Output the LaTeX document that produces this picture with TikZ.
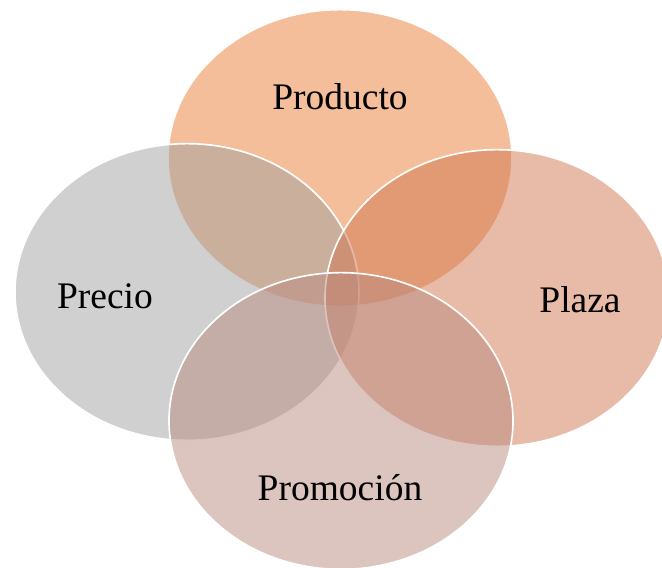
\documentclass[tikz,border=0pt]{standalone}
\usepackage{fontspec}
\setmainfont{Liberation Serif}
\usetikzlibrary{shapes.geometric}

\definecolor{prodcol}{RGB}{233,125,53}
\definecolor{preccol}{RGB}{161,161,161}
\definecolor{plazcol}{RGB}{209,119,81}
\definecolor{promcol}{RGB}{185,137,127}

\tikzset{
	blob/.style={ellipse, draw=white, line width=1.4pt, fill opacity=0.5, draw opacity=1,
		minimum width=10.32cm, minimum height=8.9cm, inner sep=0pt},
	tag/.style={font=\fontsize{32}{38}\selectfont, text=black}
}

\begin{document}
\begin{tikzpicture}[x=0.03cm, y=-0.03cm]
	\useasboundingbox (0,0) rectangle (662,568);

	\node[blob, fill=prodcol] 	(prod) 	at (340,158) {};
	\node[blob, fill=preccol] 	(prec) 	at (187,292) {};
	\node[blob, fill=plazcol] 	(plaz) 	at (497,298) {};
	\node[blob, fill=promcol] 	(prom) 	at (341,421) {};

	\node[tag] (prodtxt) at (340,97)  {Producto};
	\node[tag] (prectxt) at (105,296) {Precio};
	\node[tag] (plaztxt) at (580,300) {Plaza};
	\node[tag] (promtxt) at (340,488) {Promoción};
\end{tikzpicture}
\end{document}
